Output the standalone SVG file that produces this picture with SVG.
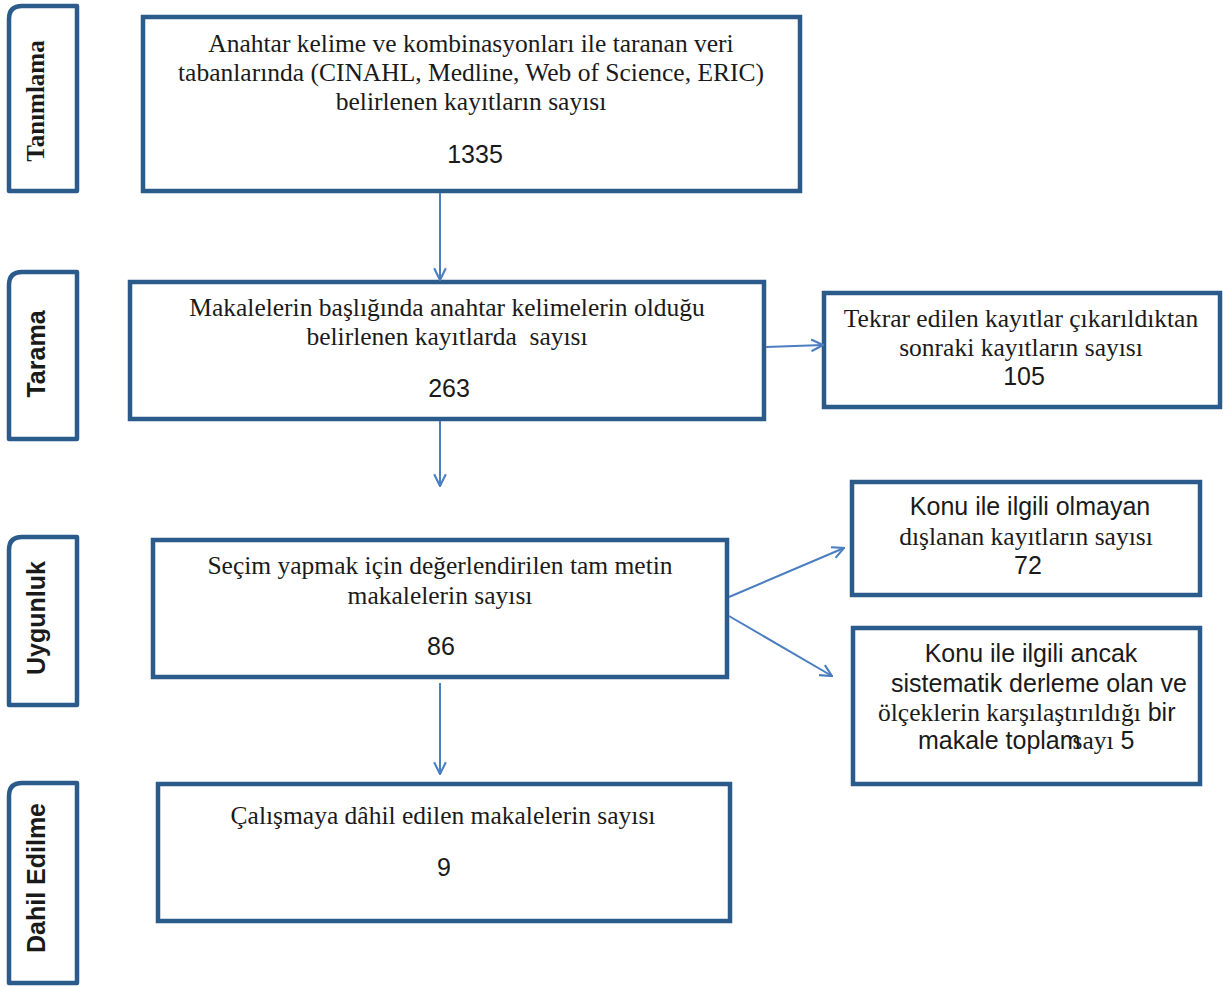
<svg xmlns="http://www.w3.org/2000/svg" width="1223" height="987" viewBox="0 0 1223 987">
<defs>
<style>
.box{fill:#fff;stroke:#2b5b8a;stroke-width:4.5}
.side{fill:#fff;stroke:#2b5b8a;stroke-width:4.5;stroke-linejoin:round}
.serif{font-family:"Liberation Serif","Times New Roman",serif;font-size:25.5px;fill:#1a1a1a}
.sans{font-family:"Liberation Sans",Arial,sans-serif;font-size:25px;fill:#1a1a1a}
.lab{font-weight:bold;font-size:25px;fill:#1a1a1a}
.conn{stroke:#4a7ec0;stroke-width:2;fill:none}
</style>
<marker id="ah" viewBox="0 0 12 12" refX="11" refY="6" markerWidth="14" markerHeight="14" markerUnits="userSpaceOnUse" orient="auto">
<path d="M1,1 L11,6 L1,11" fill="none" stroke="#4a7ec0" stroke-width="1.8"/>
</marker>
</defs>
<rect width="1223" height="987" fill="#fff"/>

<g id="side-tanimlama">
<path class="side" d="M9,191 V19 Q9,6 22,6 H77 V191 Z"/>
<text class="serif lab" transform="translate(44,101) rotate(-90)" text-anchor="middle">Tanımlama</text>
</g>
<g id="side-tarama">
<path class="side" d="M9,439 V285 Q9,272 22,272 H77 V439 Z"/>
<text class="sans lab" transform="translate(45,354) rotate(-90)" text-anchor="middle">Tarama</text>
</g>
<g id="side-uygunluk">
<path class="side" d="M9,705 V550 Q9,537 22,537 H77 V705 Z"/>
<text class="sans lab" transform="translate(45,618) rotate(-90)" text-anchor="middle">Uygunluk</text>
</g>
<g id="side-dahil">
<path class="side" d="M9,983 V796 Q9,783 22,783 H77 V983 Z"/>
<text class="sans lab" transform="translate(45,878) rotate(-90)" text-anchor="middle">Dahil Edilme</text>
</g>

<g id="box-1335">
<rect class="box" x="143" y="17" width="657" height="174"/>
<text class="serif" x="471" y="52" text-anchor="middle">Anahtar kelime ve kombinasyonları ile taranan veri</text>
<text class="serif" x="471" y="81" text-anchor="middle">tabanlarında (CINAHL, Medline, Web of Science, ERIC)</text>
<text class="serif" x="471" y="110" text-anchor="middle">belirlenen kayıtların sayısı</text>
<text class="sans" x="475" y="163" text-anchor="middle">1335</text>
</g>

<g id="box-263">
<rect class="box" x="130" y="282" width="634" height="137"/>
<text class="serif" x="447" y="316" text-anchor="middle">Makalelerin başlığında anahtar kelimelerin olduğu</text>
<text class="serif" x="447" y="345" text-anchor="middle" xml:space="preserve">belirlenen kayıtlarda  sayısı</text>
<text class="sans" x="449" y="397" text-anchor="middle">263</text>
</g>

<g id="box-105">
<rect class="box" x="824" y="293" width="396" height="114"/>
<text class="serif" x="1021" y="327" text-anchor="middle">Tekrar edilen kayıtlar çıkarıldıktan</text>
<text class="serif" x="1021" y="356" text-anchor="middle">sonraki kayıtların sayısı</text>
<text class="sans" x="1024" y="385" text-anchor="middle">105</text>
</g>

<g id="box-86">
<rect class="box" x="153" y="540" width="574" height="137"/>
<text class="serif" x="440" y="574" text-anchor="middle">Seçim yapmak için değerlendirilen tam metin</text>
<text class="serif" x="440" y="604" text-anchor="middle">makalelerin sayısı</text>
<text class="sans" x="441" y="655" text-anchor="middle">86</text>
</g>

<g id="box-72">
<rect class="box" x="852" y="482" width="348" height="113"/>
<text class="sans" x="1030" y="515" text-anchor="middle">Konu ile ilgili olmayan</text>
<text class="serif" x="1026" y="545" text-anchor="middle">dışlanan kayıtların sayısı</text>
<text class="sans" x="1028" y="574" text-anchor="middle">72</text>
</g>

<g id="box-5">
<rect class="box" x="853" y="628" width="347" height="156"/>
<text class="sans" x="1031" y="662" text-anchor="middle">Konu ile ilgili ancak</text>
<text class="sans" x="891" y="692">sistematik derleme olan ve</text>
<text x="878" y="721"><tspan class="serif">ölçeklerin karşılaştırıldığı</tspan><tspan class="sans"> bir</tspan></text>
<text x="918" y="749"><tspan class="sans">makale toplam</tspan><tspan class="serif" dx="-8">sayı</tspan><tspan class="sans"> 5</tspan></text>
</g>

<g id="box-9">
<rect class="box" x="158" y="784" width="572" height="137"/>
<text class="serif" x="443" y="824" text-anchor="middle">Çalışmaya dâhil edilen makalelerin sayısı</text>
<text class="sans" x="444" y="876" text-anchor="middle">9</text>
</g>

<g id="connectors">
<line class="conn" x1="440" y1="193" x2="440" y2="280" marker-end="url(#ah)"/>
<line class="conn" x1="440" y1="421" x2="440" y2="486" marker-end="url(#ah)"/>
<line class="conn" x1="766" y1="347" x2="823" y2="345" marker-end="url(#ah)"/>
<line class="conn" x1="729" y1="597" x2="844" y2="548" marker-end="url(#ah)"/>
<line class="conn" x1="729" y1="616" x2="832" y2="676" marker-end="url(#ah)"/>
<line class="conn" x1="440" y1="683" x2="440" y2="774" marker-end="url(#ah)"/>
</g>
</svg>
